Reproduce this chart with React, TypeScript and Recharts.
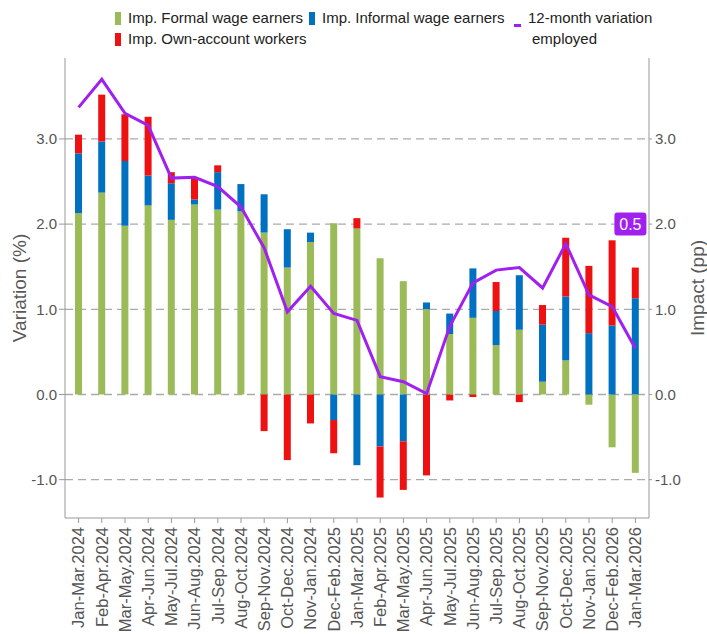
import {
  Bar,
  CartesianGrid,
  ComposedChart,
  Line,
  ReferenceDot,
  XAxis,
  YAxis,
} from "recharts";

const categories = [
  "Jan-Mar.2024", "Feb-Apr.2024", "Mar-May.2024", "Apr-Jun.2024", "May-Jul.2024",
  "Jun-Aug.2024", "Jul-Sep.2024", "Aug-Oct.2024", "Sep-Nov.2024", "Oct-Dec.2024",
  "Nov-Jan.2024", "Dec-Feb.2025", "Jan-Mar.2025", "Feb-Apr.2025", "Mar-May.2025",
  "Apr-Jun.2025", "May-Jul.2025", "Jun-Aug.2025", "Jul-Sep.2025", "Aug-Oct.2025",
  "Sep-Nov.2025", "Oct-Dec.2025", "Nov-Jan.2025", "Dec-Feb.2026", "Jan-Mar.2026",
];

// impacts (pp)
const formal = [
  2.13, 2.37, 1.98, 2.22, 2.05, 2.23, 2.17, 2.15, 1.9, 1.49, 1.79, 2.01, 1.95,
  1.6, 1.33, 1.0, 0.71, 0.9, 0.58, 0.76, 0.15, 0.4, -0.12, -0.62, -0.92,
];
const informal = [
  0.7, 0.6, 0.76, 0.35, 0.43, 0.06, 0.44, 0.32, 0.45, 0.45, 0.11, -0.3, -0.83,
  -0.61, -0.55, 0.08, 0.24, 0.58, 0.4, 0.64, 0.67, 0.75, 0.72, 0.81, 1.13,
];
const ownAccount = [
  0.22, 0.55, 0.55, 0.69, 0.13, 0.26, 0.08, 0, -0.43, -0.77, -0.34, -0.39, 0.12,
  -0.6, -0.57, -0.95, -0.07, -0.03, 0.34, -0.09, 0.23, 0.69, 0.79, 1.0, 0.36,
];
// 12-month variation of employed (%)
const variation = [
  3.37, 3.7, 3.3, 3.16, 2.54, 2.55, 2.44, 2.2, 1.72, 0.97, 1.27, 0.95, 0.87,
  0.21, 0.15, 0.01, 0.8, 1.31, 1.46, 1.49, 1.25, 1.77, 1.17, 1.03, 0.54,
];

const yTicks = [-1, 0, 1, 2, 3];
const yDomain = [-1.45, 3.95];
const badgeLevel = 2.0;

const chartData = categories.map((period, i) => ({
  period,
  formal: formal[i],
  informal: informal[i],
  ownAccount: ownAccount[i],
  variation: variation[i],
}));

const FONT = '"Liberation Sans", Arial, sans-serif';
const GREEN = "#9BBB59";
const BLUE = "#0070C0";
const RED = "#EE1111";
const PURPLE = "#A020F0";

function PeriodTick({ x, y, payload }: any) {
  return (
    <text
      x={x}
      y={y}
      transform={`rotate(-90, ${x}, ${y})`}
      textAnchor="end"
      dy="0.35em"
      fill="#555"
      fontSize={16.5}
      fontFamily={FONT}
    >
      {payload.value}
    </text>
  );
}

function Badge({ cx, cy }: any) {
  const last = variation[variation.length - 1];
  return (
    <g>
      <rect x={cx - 21} y={cy - 11.5} width={32} height={23} rx={3} fill={PURPLE} />
      <text
        x={cx - 5}
        y={cy}
        dy="0.36em"
        textAnchor="middle"
        fill="#fff"
        fontSize={16}
        fontFamily={FONT}
      >
        {last.toFixed(1)}
      </text>
    </g>
  );
}

function LegendItem({ left, top, color, text, line }: any) {
  return (
    <div
      style={{
        position: "absolute",
        left,
        top,
        display: "flex",
        alignItems: "center",
        whiteSpace: "nowrap",
      }}
    >
      <span
        style={{
          display: "inline-block",
          width: line ? 7 : 6,
          height: line ? 3 : 13,
          marginTop: line ? 14 : 0,
          background: color,
          marginRight: 7,
        }}
      />
      <span>{text}</span>
    </div>
  );
}

export default function App() {
  const tickStyle = { fill: "#555", fontSize: 15, fontFamily: FONT };
  return (
    <div
      style={{
        position: "absolute",
        left: 0,
        top: 0,
        width: 707,
        height: 634,
        background: "#fff",
        fontFamily: FONT,
      }}
    >
      <div
        style={{
          position: "absolute",
          left: 0,
          top: 0,
          width: 707,
          fontSize: 15,
          color: "#222",
          lineHeight: "18px",
          whiteSpace: "nowrap",
        }}
      >
        <LegendItem left={115} top={9} color={GREEN} text="Imp. Formal wage earners" />
        <LegendItem left={309} top={9} color={BLUE} text="Imp. Informal wage earners" />
        <LegendItem left={115} top={30} color={RED} text="Imp. Own-account workers" />
        <LegendItem left={514} top={9} color={PURPLE} text="12-month variation" line />
        <div style={{ position: "absolute", left: 532, top: 30 }}>employed</div>
      </div>
      <ComposedChart
        width={707}
        height={634}
        data={chartData}
        stackOffset="sign"
        margin={{ top: 58, right: 0, bottom: 0, left: 0 }}
        style={{ position: "absolute", left: 0, top: 0 }}
      >
        <CartesianGrid
          yAxisId="left"
          vertical={false}
          horizontalValues={yTicks}
          stroke="#AAAAAA"
          strokeWidth={1.3}
          strokeDasharray="8 5"
        />
        <XAxis
          dataKey="period"
          interval={0}
          height={116}
          padding={{ left: 2, right: 2 }}
          tick={<PeriodTick />}
          tickSize={5}
          tickMargin={4}
          axisLine={{ stroke: "#999" }}
          tickLine={{ stroke: "#999" }}
        />
        <YAxis
          yAxisId="left"
          width={65}
          domain={yDomain}
          ticks={yTicks}
          allowDataOverflow
          tickFormatter={(v: number) => v.toFixed(1)}
          tick={tickStyle}
          tickSize={6}
          tickMargin={2}
          axisLine={{ stroke: "#999" }}
          tickLine={{ stroke: "#999" }}
          label={{
            value: "Variation (%)",
            angle: -90,
            position: "insideLeft",
            offset: 19,
            style: { textAnchor: "middle", fill: "#595959", fontSize: 19, fontFamily: FONT },
          }}
        />
        <YAxis
          yAxisId="right"
          orientation="right"
          width={58}
          domain={yDomain}
          ticks={yTicks}
          allowDataOverflow
          tickFormatter={(v: number) => v.toFixed(1)}
          tick={tickStyle}
          tickSize={3}
          tickMargin={3}
          axisLine={{ stroke: "#999" }}
          tickLine={{ stroke: "#999" }}
          label={{
            value: "Impact (pp)",
            angle: -90,
            position: "insideRight",
            offset: 10,
            style: { textAnchor: "middle", fill: "#595959", fontSize: 19, fontFamily: FONT },
          }}
        />
        <Bar yAxisId="right" dataKey="formal" stackId="imp" barSize={7} fill={GREEN} isAnimationActive={false} />
        <Bar yAxisId="right" dataKey="informal" stackId="imp" barSize={7} fill={BLUE} isAnimationActive={false} />
        <Bar yAxisId="right" dataKey="ownAccount" stackId="imp" barSize={7} fill={RED} isAnimationActive={false} />
        <Line
          yAxisId="left"
          type="linear"
          dataKey="variation"
          stroke={PURPLE}
          strokeWidth={3}
          dot={false}
          isAnimationActive={false}
        />
        <ReferenceDot
          yAxisId="left"
          x={categories[categories.length - 1]}
          y={badgeLevel}
          shape={<Badge />}
        />
      </ComposedChart>
    </div>
  );
}
